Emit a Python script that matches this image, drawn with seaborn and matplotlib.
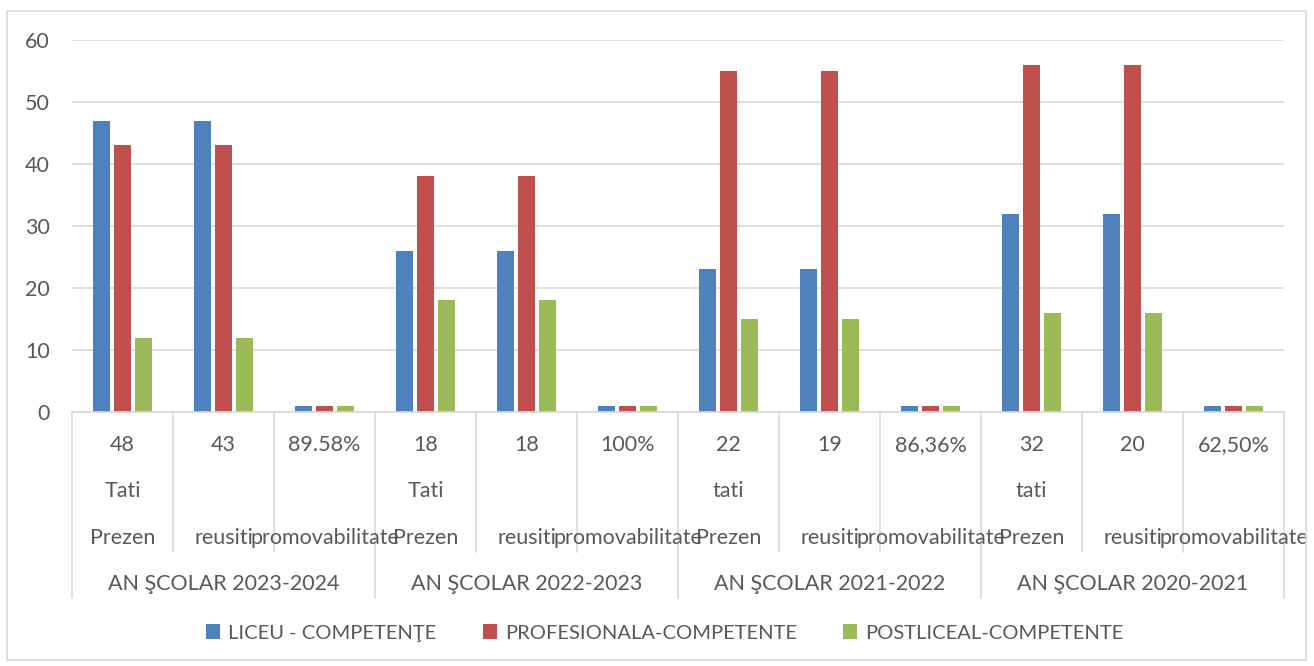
import matplotlib
matplotlib.use("Agg")
import matplotlib.pyplot as plt
import seaborn as sns
import pandas as pd
from matplotlib.patches import Rectangle, Patch
from matplotlib.transforms import blended_transform_factory

# ---- data ----
groups = ["AN ŞCOLAR 2023-2024", "AN ŞCOLAR 2022-2023", "AN ŞCOLAR 2021-2022", "AN ŞCOLAR 2020-2021"]
row_numbers = ["48", "43", "89.58%", "18", "18", "100%", "22", "19", "86,36%", "32", "20", "62,50%"]
row_tati = ["Tati", "", "", "Tati", "", "", "tati", "", "", "tati", "", ""]
row_kind = ["Prezen", "reusiti", "promovabilitate"] * 4
series_names = ["LICEU - COMPETENŢE", "PROFESIONALA-COMPETENTE", "POSTLICEAL-COMPETENTE"]
liceu = [47, 47, 1, 26, 26, 1, 23, 23, 1, 32, 32, 1]
profesionala = [43, 43, 1, 38, 38, 1, 55, 55, 1, 56, 56, 1]
postliceal = [12, 12, 1, 18, 18, 1, 15, 15, 1, 16, 16, 1]
colors = ["#4F81BD", "#C0504D", "#9BBB59"]

cats = [str(i) for i in range(len(liceu))]
df = pd.DataFrame({
    "cat": cats * 3,
    "value": liceu + profesionala + postliceal,
    "series": [series_names[0]] * 12 + [series_names[1]] * 12 + [series_names[2]] * 12,
})

sns.set_style("white")
plt.rcParams["font.family"] = ["Lato", "DejaVu Sans"]
txt = "#595959"
grid = "#D9D9D9"
fs = 15.5

W, H = 1314, 666
fig = plt.figure(figsize=(W / 100, H / 100), dpi=100)
ax = fig.add_axes([72 / W, 1 - 412 / H, (1284 - 72) / W, (412 - 40) / H])

sns.barplot(data=df, x="cat", y="value", hue="series", order=cats,
            hue_order=series_names, palette=colors, width=0.62, gap=0.2,
            linewidth=0, saturation=1, ax=ax, legend=False)

ax.set_xlim(-0.5, 11.5)
ax.set_ylim(0, 60)
ax.set_yticks(range(0, 61, 10))
ax.yaxis.grid(True, color=grid, linewidth=1.2)
ax.set_axisbelow(True)
for s in ["left", "right", "top"]:
    ax.spines[s].set_visible(False)
ax.spines["bottom"].set_color(grid)
ax.spines["bottom"].set_linewidth(1.2)
ax.tick_params(axis="y", length=0, pad=16, labelsize=fs, labelcolor=txt)
ax.set_xticks([])
ax.set_xlabel("")
ax.set_ylabel("")

tr = blended_transform_factory(ax.transData, ax.transAxes)
# separator lines
for i in range(13):
    x = i - 0.5
    y_end = -0.5 if i % 3 == 0 else -0.376
    ax.plot([x, x], [0, y_end], transform=tr, color=grid, lw=1.2, clip_on=False)
# category text rows
for i in range(12):
    ax.text(i, -0.09, row_numbers[i], transform=tr, ha="center", va="center", fontsize=fs, color=txt)
    if row_tati[i]:
        ax.text(i, -0.212, row_tati[i], transform=tr, ha="center", va="center", fontsize=fs, color=txt)
    ax.text(i, -0.34, row_kind[i], transform=tr, ha="center", va="center", fontsize=fs, color=txt)
for g, name in enumerate(groups):
    ax.text(g * 3 + 1, -0.463, name, transform=tr, ha="center", va="center", fontsize=fs, color=txt)

# legend
handles = [Patch(facecolor=c, edgecolor="none") for c in colors]
fig.legend(handles, series_names, loc="center", bbox_to_anchor=(0.506, 1 - 633 / H), ncol=3,
           frameon=False, fontsize=14.5, labelcolor=txt, handlelength=0.7, handleheight=0.7,
           handletextpad=0.4, columnspacing=2.3)

# outer chart border
fig.patches.append(Rectangle((7 / W, 1 - 660 / H), (1306 - 7) / W, (660 - 11) / H,
                             transform=fig.transFigure, fill=False, edgecolor=grid, linewidth=1.2))

fig.savefig("out.png", dpi=100)
